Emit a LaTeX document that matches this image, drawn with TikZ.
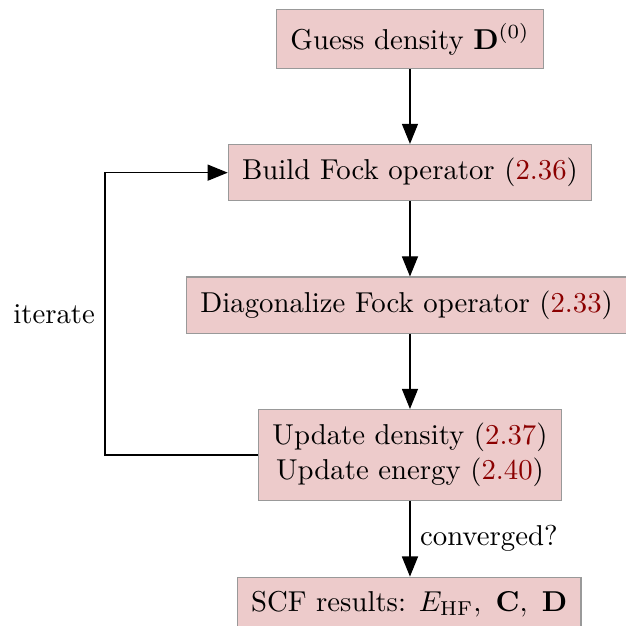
\documentclass[tikz,border=0pt]{standalone}
\usepackage{amsmath,xcolor}
\usetikzlibrary{arrows.meta}
\definecolor{boxfill}{HTML}{EDCBCB}
\definecolor{boxline}{HTML}{999999}
\definecolor{eqref}{HTML}{8B0000}
\newcommand{\eqlink}[1]{(\textcolor{eqref}{#1})}

\begin{document}
\begin{tikzpicture}[x=1cm,y=1cm,>={Triangle[length=7pt,width=5.6pt]},
      stepbox/.style={draw=boxline,fill=boxfill,align=center,inner sep=4.8pt},
      flow/.style={->,thin,draw=black}]
    \useasboundingbox (0,0) rectangle (7.65,-7.65);
    \node[stepbox] (guess) at (5.01,-.48) {Guess density $\mathbf{D}^{(0)}$};
    \node[stepbox] (fock) at (5.01,-2.11) {Build Fock operator \eqlink{2.36}};
    \node[stepbox] (diag) at (4.97,-3.73) {Diagonalize Fock operator \eqlink{2.33}};
    \node[stepbox] (update) at (5.01,-5.56) {Update density \eqlink{2.37}\\Update energy \eqlink{2.40}};
    \node[stepbox] (result) at (5.00,-7.38) {SCF results: $E_{\mathrm{HF}},\ \mathbf{C},\ \mathbf{D}$};
    \draw[flow] (guess.south) -- (fock.north);
    \draw[flow] (fock.south) -- (diag.north -| fock.south);
    \draw[flow] (diag.south -| fock.south) -- (update.north);
    \draw[flow] (update.south) -- node[right] {converged?} (result.north -| update.south);
    \draw[flow] (update.west) -- ++(-1.87,0) |- node[pos=.25,left] {iterate} (fock.west);
\end{tikzpicture}
\end{document}
